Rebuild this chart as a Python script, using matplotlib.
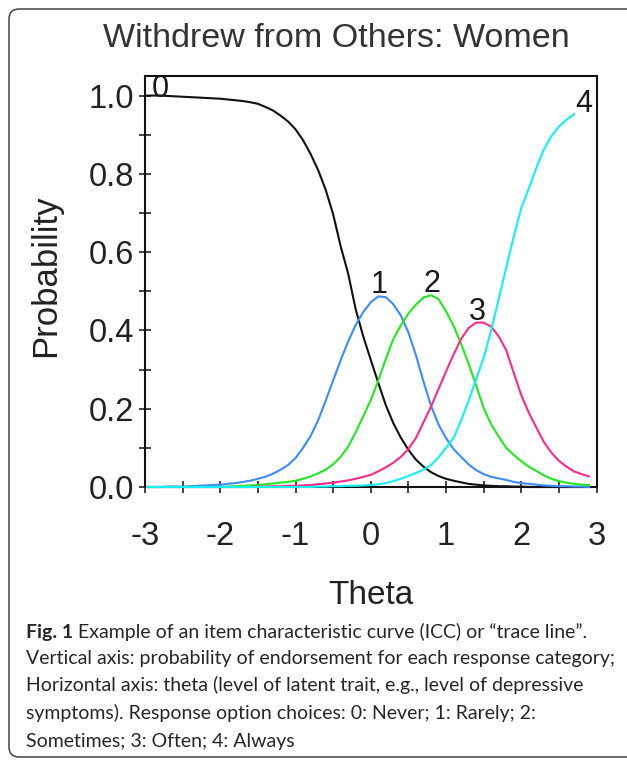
import matplotlib
matplotlib.use("Agg")
import matplotlib.pyplot as plt
from matplotlib.ticker import MultipleLocator, FormatStrFormatter
from matplotlib.patches import FancyBboxPatch

plt.rcParams['axes.unicode_minus'] = False

# ---------------- data ----------------
theta = [-3.0, -2.9, -2.8, -2.7, -2.6, -2.5, -2.4, -2.3, -2.2, -2.1,
         -2.0, -1.9, -1.8, -1.7, -1.6, -1.5, -1.4, -1.3, -1.2, -1.1,
         -1.0, -0.9, -0.8, -0.7, -0.6, -0.5, -0.4, -0.3, -0.2, -0.1,
         0.0, 0.1, 0.2, 0.3, 0.4, 0.5, 0.6, 0.7, 0.8, 0.9,
         1.0, 1.1, 1.2, 1.3, 1.4, 1.5, 1.6, 1.7, 1.8, 1.9,
         2.0, 2.1, 2.2, 2.3, 2.4, 2.5, 2.6, 2.7, 2.8, 2.9]

p_never = [1.000, 1.000, 1.000, 0.999, 0.998, 0.997, 0.996, 0.995, 0.994, 0.993,
           0.992, 0.990, 0.988, 0.986, 0.983, 0.979, 0.971, 0.962, 0.949, 0.934,
           0.914, 0.886, 0.851, 0.810, 0.760, 0.697, 0.615, 0.545, 0.454, 0.385,
           0.325, 0.266, 0.209, 0.163, 0.126, 0.095, 0.070, 0.052, 0.038, 0.028,
           0.021, 0.016, 0.012, 0.008, 0.006, 0.004, 0.003, 0.002, 0.002, 0.001,
           0.001, 0.000, 0.000, 0.000, 0.000, 0.000, 0.000, 0.000, 0.000, 0.000]

p_rarely = [0.000, 0.000, 0.000, 0.001, 0.001, 0.001, 0.002, 0.003, 0.004, 0.005,
            0.006, 0.008, 0.010, 0.013, 0.016, 0.021, 0.026, 0.034, 0.044, 0.056,
            0.074, 0.100, 0.130, 0.170, 0.220, 0.272, 0.324, 0.372, 0.414, 0.447,
            0.472, 0.487, 0.485, 0.467, 0.438, 0.395, 0.337, 0.270, 0.208, 0.160,
            0.125, 0.097, 0.077, 0.058, 0.043, 0.033, 0.026, 0.022, 0.018, 0.013,
            0.010, 0.008, 0.006, 0.004, 0.003, 0.002, 0.002, 0.001, 0.001, 0.000]

p_sometimes = [0.000, 0.000, 0.000, 0.000, 0.000, 0.000, 0.000, 0.000, 0.000, 0.000,
               0.000, 0.001, 0.002, 0.003, 0.004, 0.005, 0.007, 0.009, 0.011, 0.013,
               0.016, 0.021, 0.027, 0.035, 0.044, 0.058, 0.077, 0.103, 0.140, 0.180,
               0.222, 0.272, 0.327, 0.378, 0.413, 0.443, 0.466, 0.484, 0.490, 0.480,
               0.449, 0.412, 0.366, 0.315, 0.260, 0.202, 0.160, 0.129, 0.100, 0.082,
               0.066, 0.052, 0.041, 0.030, 0.021, 0.015, 0.011, 0.008, 0.006, 0.005]

p_often = [0.000, 0.000, 0.000, 0.000, 0.000, 0.000, 0.000, 0.000, 0.000, 0.000,
           0.000, 0.000, 0.000, 0.000, 0.000, 0.001, 0.001, 0.002, 0.002, 0.003,
           0.003, 0.004, 0.005, 0.007, 0.009, 0.011, 0.014, 0.017, 0.021, 0.026,
           0.031, 0.040, 0.050, 0.062, 0.077, 0.097, 0.125, 0.165, 0.205, 0.250,
           0.295, 0.338, 0.378, 0.406, 0.420, 0.420, 0.410, 0.385, 0.350, 0.292,
           0.235, 0.190, 0.152, 0.115, 0.088, 0.067, 0.052, 0.040, 0.033, 0.027]

p_always = [0.000, 0.000, 0.000, 0.000, 0.000, 0.000, 0.000, 0.000, 0.000, 0.000,
            0.000, 0.000, 0.000, 0.000, 0.000, 0.000, 0.000, 0.000, 0.000, 0.000,
            0.000, 0.000, 0.000, 0.001, 0.001, 0.002, 0.002, 0.003, 0.003, 0.004,
            0.005, 0.007, 0.010, 0.015, 0.021, 0.028, 0.036, 0.044, 0.056, 0.075,
            0.100, 0.125, 0.170, 0.220, 0.275, 0.330, 0.400, 0.480, 0.560, 0.640,
            0.712, 0.763, 0.815, 0.862, 0.896, 0.921, 0.938, 0.952, 0.962, 0.968]

category_labels = ["0", "1", "2", "3", "4"]
x_ticks = [-3, -2, -1, 0, 1, 2, 3]
y_ticks = [0.0, 0.2, 0.4, 0.6, 0.8, 1.0]

title = "Withdrew from Others: Women"
x_label = "Theta"
y_label = "Probability"
caption_bold = "Fig. 1"
caption_lines = [
    " Example of an item characteristic curve (ICC) or \u201ctrace line\u201d.",
    "Vertical axis: probability of endorsement for each response category;",
    "Horizontal axis: theta (level of latent trait, e.g., level of depressive",
    "symptoms). Response option choices: 0: Never; 1: Rarely; 2:",
    "Sometimes; 3: Often; 4: Always",
]

# ---------------- figure ----------------
W, H, DPI = 627, 761, 100
fig = plt.figure(figsize=(W / DPI, H / DPI), dpi=DPI)
fig.patch.set_facecolor("white")

# rounded outer frame (right side runs off the picture)
frame = FancyBboxPatch((9 / DPI, 4 / DPI), 640 / DPI, 748 / DPI,
                       boxstyle="round,pad=0,rounding_size=0.1",
                       transform=fig.dpi_scale_trans, fill=False,
                       ec="#333333", lw=1.0, zorder=0)
fig.patches.append(frame)

ax_l, ax_r, ax_t, ax_b = 145, 596.5, 76, 487
ax = fig.add_axes([ax_l / W, 1 - ax_b / H, (ax_r - ax_l) / W, (ax_b - ax_t) / H])

lab_font = ["Liberation Sans", "DejaVu Sans"]
series = [p_never, p_rarely, p_sometimes, p_often, p_always]
colors = ["#111111", "#3d8bfd", "#22e822", "#ff2a8a", "#14f0f0"]
for vals, c in zip(series, colors):
    ax.plot(theta, vals, color=c, lw=1.5, zorder=3, clip_on=False)

ax.set_xlim(-3, 3)
ax.set_ylim(0, 1.05)

# curve labels placed relative to curve start / peak / end (offsets in pixels)
def put(txt, x, y, dx, dy, **kw):
    ax.annotate(txt, (x, y), xytext=(dx, dy), textcoords="offset pixels",
                ha="center", va="center", fontsize=22, family=lab_font,
                color="#1a1a1a", zorder=4, **kw)

put(category_labels[0], theta[0], p_never[0], 15, 7)
for lab, vals in zip(category_labels[1:4], series[1:4]):
    i = max(range(len(vals)), key=lambda k: vals[k])
    put(lab, theta[i], vals[i], 1, 11)
put(category_labels[4], theta[-1], p_always[-1], -5, 4,
    bbox=dict(fc="white", ec="none", pad=0))

# spines
for s in ["left", "top", "right"]:
    ax.spines[s].set_linewidth(1.5)
    ax.spines[s].set_color("#111111")
    ax.spines[s].set_zorder(5)
ax.spines["bottom"].set_linewidth(1.5)
ax.spines["bottom"].set_color("#111111")
ax.spines["bottom"].set_zorder(1)

ax.set_xticks(x_ticks)
ax.set_yticks(y_ticks)
ax.xaxis.set_minor_locator(MultipleLocator(0.5))
ax.yaxis.set_minor_locator(MultipleLocator(0.1))
ax.yaxis.set_major_formatter(FormatStrFormatter("%.1f"))
ax.tick_params(which="both", direction="inout", length=8.6, width=1.1,
               color="#111111", top=False, right=False)
ax.tick_params(axis="x", which="major", pad=20.5, labelsize=23.5, labelcolor="#222222")
ax.tick_params(axis="y", which="major", pad=3.4, labelsize=23.5, labelcolor="#222222")
for t in ax.get_xticklabels() + ax.get_yticklabels():
    t.set_family(lab_font)

ax.set_xlabel(x_label, fontsize=24, family=lab_font, color="#222222")
ax.set_ylabel(y_label, fontsize=25, family=lab_font, color="#222222")
ax.xaxis.set_label_coords(0.5, -0.226)
ax.yaxis.set_label_coords(-0.184, 0.513)

fig.text(336 / W, 1 - 38.5 / H, title, ha="center", va="center",
         fontsize=24.5, family=lab_font, color="#333333")

# caption
cap_font = ["Lato", "DejaVu Sans"]
cap_size = 14
x0 = 26 / W
baselines = [638, 664, 691, 719, 747]
cap_color = "#262626"
tb = fig.text(x0, 1 - baselines[0] / H, caption_bold, ha="left", va="baseline",
              fontsize=cap_size, family=cap_font, weight="bold", color=cap_color)
fig.canvas.draw()
bb = tb.get_window_extent()
fig.text(bb.x1 / W, 1 - baselines[0] / H, caption_lines[0], ha="left", va="baseline",
         fontsize=cap_size, family=cap_font, color=cap_color)
for line, yb in zip(caption_lines[1:], baselines[1:]):
    fig.text(x0, 1 - yb / H, line, ha="left", va="baseline",
             fontsize=cap_size, family=cap_font, color=cap_color)

fig.savefig("out.png", dpi=DPI, facecolor="white")
